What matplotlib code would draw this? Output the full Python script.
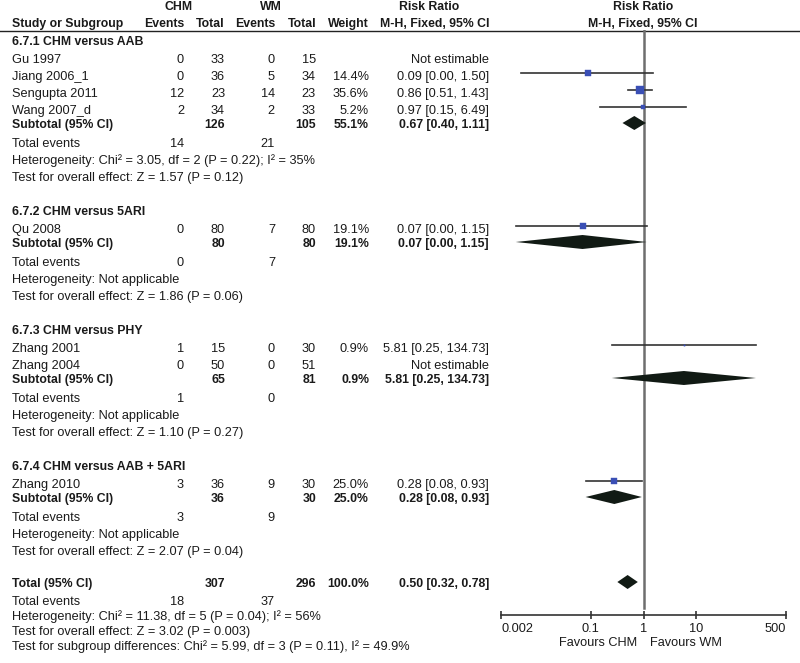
import matplotlib
matplotlib.use("Agg")
import matplotlib.pyplot as plt
import numpy as np

plt.rcParams['font.family'] = ['Liberation Sans', 'DejaVu Sans']
FS = 9.2      # regular text
FSB = 8.8     # bold text
TXT = '#1a1a1a'

# ---- data ----
group_names = ["6.7.1 CHM versus AAB", "6.7.2 CHM versus 5ARI",
               "6.7.3 CHM versus PHY", "6.7.4 CHM versus AAB + 5ARI"]

study_names = ["Gu 1997", "Jiang 2006_1", "Sengupta 2011", "Wang 2007_d",
               "Qu 2008", "Zhang 2001", "Zhang 2004", "Zhang 2010"]
study_group = [0, 0, 0, 0, 1, 2, 2, 3]
chm_events = [0, 0, 12, 2, 0, 1, 0, 3]
chm_total = [33, 36, 23, 34, 80, 15, 50, 36]
wm_events = [0, 5, 14, 2, 7, 0, 0, 9]
wm_total = [15, 34, 23, 33, 80, 30, 51, 30]
weights = [None, 14.4, 35.6, 5.2, 19.1, 0.9, None, 25.0]
rr = [None, 0.09, 0.86, 0.97, 0.07, 5.81, None, 0.28]
rr_lo = [None, 0.0047, 0.51, 0.15, 0.0038, 0.25, None, 0.08]
rr_hi = [None, 1.50, 1.43, 6.49, 1.15, 134.73, None, 0.93]

sub_chm_total = [126, 80, 65, 36]
sub_wm_total = [105, 80, 81, 30]
sub_weight = [55.1, 19.1, 0.9, 25.0]
sub_rr = [0.67, 0.07, 5.81, 0.28]
sub_lo = [0.40, 0.0038, 0.25, 0.08]
sub_hi = [1.11, 1.15, 134.73, 0.93]
sub_chm_events = [14, 0, 1, 3]
sub_wm_events = [21, 7, 0, 9]
sub_het = ["Heterogeneity: Chi\u00b2 = 3.05, df = 2 (P = 0.22); I\u00b2 = 35%",
           "Heterogeneity: Not applicable",
           "Heterogeneity: Not applicable",
           "Heterogeneity: Not applicable"]
sub_effect = ["Test for overall effect: Z = 1.57 (P = 0.12)",
              "Test for overall effect: Z = 1.86 (P = 0.06)",
              "Test for overall effect: Z = 1.10 (P = 0.27)",
              "Test for overall effect: Z = 2.07 (P = 0.04)"]

tot_chm_total, tot_wm_total = 307, 296
tot_weight = 100.0
tot_rr, tot_lo, tot_hi = 0.50, 0.32, 0.78
tot_chm_events, tot_wm_events = 18, 37
tot_het = "Heterogeneity: Chi\u00b2 = 11.38, df = 5 (P = 0.04); I\u00b2 = 56%"
tot_effect = "Test for overall effect: Z = 3.02 (P = 0.003)"
tot_subgroup = "Test for subgroup differences: Chi\u00b2 = 5.99, df = 3 (P = 0.11), I\u00b2 = 49.9%"

axis_ticks = [0.002, 0.1, 1, 10, 500]
axis_labels = ["0.002", "0.1", "1", "10", "500"]

# ---- column x positions (pixels) ----
X_NAME = 12
X_CEV, X_CTOT, X_WEV, X_WTOT, X_WT, X_RR = 184, 225, 275, 316, 369, 489


def ci_text(m, lo, hi):
    return "%.2f [%.2f, %.2f]" % (m, lo, hi)


fig = plt.figure(figsize=(8, 6.63), dpi=100)
ax = fig.add_axes([0, 0, 1, 1])
ax.set_xlim(0, 800)
ax.set_ylim(663, 0)
ax.axis('off')

# forest axes, y in the same pixel units as the text
AX_TOP, AX_BOT = 30, 615
axf = fig.add_axes([501 / 800, (663 - AX_BOT) / 663, 285 / 800, (AX_BOT - AX_TOP) / 663])
axf.set_xscale('log')
axf.set_xlim(0.002, 500)
axf.set_ylim(AX_BOT, AX_TOP)
axf.patch.set_alpha(0)
for s in ['top', 'left', 'right']:
    axf.spines[s].set_visible(False)
axf.spines['bottom'].set_color('#333333')
axf.spines['bottom'].set_linewidth(1.2)
axf.set_yticks([])
axf.set_xticks(axis_ticks)
axf.set_xticklabels(axis_labels)
axf.minorticks_off()
axf.tick_params(axis='x', direction='inout', length=6, width=1.2, color='#333333',
                labelsize=FS, labelcolor=TXT, pad=3)
tl = axf.get_xticklabels()
tl[0].set_ha('left')
tl[-1].set_ha('right')


def t(x, y, s, ha='left', bold=False):
    ax.text(x, y, s, ha=ha, va='center', fontsize=FSB if bold else FS, color=TXT,
            fontweight='bold' if bold else 'normal')


def diamond(y, m, lo, hi, h=7):
    axf.fill([lo, m, hi, m], [y, y - h, y, y + h], color='#111a14', lw=0)


# header
t(179, 7, "CHM", ha='center', bold=True)
t(271, 7, "WM", ha='center', bold=True)
t(429, 7, "Risk Ratio", ha='center', bold=True)
t(643, 7, "Risk Ratio", ha='center', bold=True)
t(X_NAME, 24, "Study or Subgroup", bold=True)
t(X_CEV, 24, "Events", ha='right', bold=True)
t(X_CTOT, 24, "Total", ha='right', bold=True)
t(X_WEV, 24, "Events", ha='right', bold=True)
t(X_WTOT, 24, "Total", ha='right', bold=True)
t(X_WT, 24, "Weight", ha='right', bold=True)
t(X_RR, 24, "M-H, Fixed, 95% CI", ha='right', bold=True)
t(643, 24, "M-H, Fixed, 95% CI", ha='center', bold=True)
ax.plot([0, 800], [31, 31], color='#222222', lw=1)

# line of no effect
axf.plot([1, 1], [AX_TOP, 608], color='#6e6e6e', lw=1.8, zorder=1)

y = 42
for g, gname in enumerate(group_names):
    t(X_NAME, y, gname, bold=True)
    y += 18
    first = True
    for i in range(len(study_names)):
        if study_group[i] != g:
            continue
        if not first:
            y += 17
        first = False
        t(X_NAME, y, study_names[i])
        t(X_CEV, y, str(chm_events[i]), ha='right')
        t(X_CTOT, y, str(chm_total[i]), ha='right')
        t(X_WEV, y, str(wm_events[i]), ha='right')
        t(X_WTOT, y, str(wm_total[i]), ha='right')
        if rr[i] is None:
            t(X_RR, y, "Not estimable", ha='right')
        else:
            t(X_WT, y, "%.1f%%" % weights[i], ha='right')
            t(X_RR, y, ci_text(rr[i], rr_lo[i], rr_hi[i]), ha='right')
            ym = y - 4
            axf.plot([rr_lo[i], rr_hi[i]], [ym, ym], color='#333333', lw=1.2, zorder=2)
            side = 1.34 * np.sqrt(weights[i]) * 0.72
            axf.plot([rr[i]], [ym], marker='s', ms=side, color='#3a4fb5',
                     mec='#3a4fb5', mew=0.3, zorder=3)
    y += 14
    t(X_NAME, y, "Subtotal (95% CI)", bold=True)
    t(X_CTOT, y, str(sub_chm_total[g]), ha='right', bold=True)
    t(X_WTOT, y, str(sub_wm_total[g]), ha='right', bold=True)
    t(X_WT, y, "%.1f%%" % sub_weight[g], ha='right', bold=True)
    t(X_RR, y, ci_text(sub_rr[g], sub_lo[g], sub_hi[g]), ha='right', bold=True)
    diamond(y - 2, sub_rr[g], sub_lo[g], sub_hi[g])
    y += 19
    t(X_NAME, y, "Total events")
    t(X_CEV, y, str(sub_chm_events[g]), ha='right')
    t(X_WEV, y, str(sub_wm_events[g]), ha='right')
    y += 17
    t(X_NAME, y, sub_het[g])
    y += 17
    t(X_NAME, y, sub_effect[g])
    y += 34

# overall
y -= 2
t(X_NAME, y, "Total (95% CI)", bold=True)
t(X_CTOT, y, str(tot_chm_total), ha='right', bold=True)
t(X_WTOT, y, str(tot_wm_total), ha='right', bold=True)
t(X_WT, y, "%.1f%%" % tot_weight, ha='right', bold=True)
t(X_RR, y, ci_text(tot_rr, tot_lo, tot_hi), ha='right', bold=True)
diamond(y - 2, tot_rr, tot_lo, tot_hi)
y += 18
t(X_NAME, y, "Total events")
t(X_CEV, y, str(tot_chm_events), ha='right')
t(X_WEV, y, str(tot_wm_events), ha='right')
y += 15
t(X_NAME, y, tot_het)
y += 15
t(X_NAME, y, tot_effect)
y += 15
t(X_NAME, y, tot_subgroup)

t(637, 643, "Favours CHM", ha='right')
t(650, 643, "Favours WM")

fig.savefig("out.png", dpi=100)
